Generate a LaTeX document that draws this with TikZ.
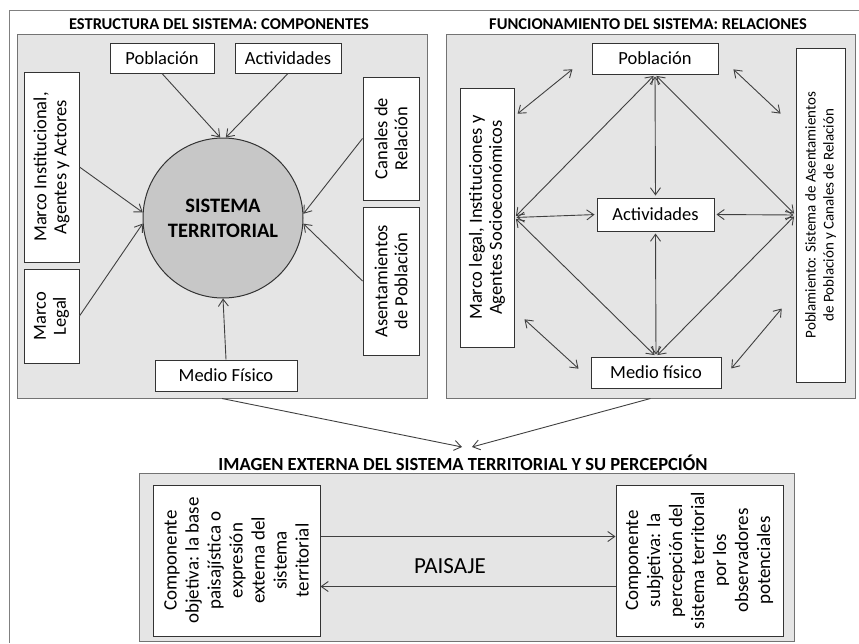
\documentclass[tikz,border=0pt]{standalone}
\usepackage{fontspec}
\setmainfont{Carlito}
\usetikzlibrary{arrows.meta}

\begin{document}
\begin{tikzpicture}[x=1pt,y=-1pt,
	panel/.style={draw=black!55, fill=black!10, line width=1pt},
	box/.style={draw=black!80, fill=white, line width=1pt, inner sep=0pt, align=center, font=\fontsize{18.5}{20}\selectfont},
	vbox/.style={box, rotate=90},
	head/.style={font=\fontsize{16.5}{18}\selectfont\bfseries},
	arr/.style={draw=black!75, line width=0.9pt, -{Straight Barb[length=7pt,width=10pt]}},
	dbl/.style={arr, {Straight Barb[length=7pt,width=10pt]}-{Straight Barb[length=7pt,width=10pt]}, shorten <=2pt, shorten >=2pt}]
	\useasboundingbox (0,0) rectangle (859,643);
	\draw[black!50, line width=0.8pt] (859,10) -- (9,10) -- (9,643);

	\node[head] (t1) at (219,24) {ESTRUCTURA DEL SISTEMA: COMPONENTES};
	\node[head] (t2) at (648,24) {FUNCIONAMIENTO DEL SISTEMA: RELACIONES};
	\node[panel, minimum width=410pt, minimum height=364pt] (comp) at (222,216) {};
	\node[panel, minimum width=409pt, minimum height=364pt] (rel) at (650.5,216) {};

	\node[box, minimum width=104pt, minimum height=30pt] (pob1) at (162,58) {Población};
	\node[box, minimum width=106pt, minimum height=30pt] (act1) at (288,58) {Actividades};
	\node[vbox, minimum width=190pt, minimum height=55pt] (inst) at (51.5,167) {Marco Institucional,\\Agentes y Actores};
	\node[vbox, minimum width=94pt, minimum height=55pt] (legal) at (51.5,316) {Marco\\Legal};
	\node[vbox, minimum width=123pt, minimum height=56pt] (can) at (391,138.5) {Canales de\\Relación};
	\node[vbox, minimum width=148pt, minimum height=56pt] (asent) at (391,281) {Asentamientos\\de Población};
	\node[box, minimum width=142pt, minimum height=31pt] (med1) at (226,375.5) {Medio Físico};
	\node[circle, draw=black!80, fill=black!22, line width=1pt, minimum size=160pt, align=center,
		font=\fontsize{20.5}{25}\selectfont\bfseries] (st) at (223,218) {SISTEMA\\TERRITORIAL};

	\draw[arr] (pob1.south) -- (st.92);
	\draw[arr] (act1.south) -- (st.88);
	\draw[arr] (inst.south) -- (st.176);
	\draw[arr] (legal.south) -- (st.184);
	\draw[arr] (can.north) -- (st.3);
	\draw[arr] (asent.north) -- (st.-4);
	\draw[arr] (med1.north) -- (st.south);

	\node[box, minimum width=126pt, minimum height=31pt] (pob2) at (655,58.5) {Población};
	\node[box, minimum width=117pt, minimum height=33pt] (act2) at (655.5,214.5) {Actividades};
	\node[vbox, minimum width=259pt, minimum height=54pt] (marco) at (487,217.5) {Marco legal, Instituciones y\\Agentes Socioeconómicos};
	\node[vbox, minimum width=334pt, minimum height=49pt, font=\fontsize{15}{18}\selectfont] (pobl) at (820.5,215)
		{Poblamiento: Sistema de Asentamientos\\de Población y Canales de Relación};
	\node[box, minimum width=130pt, minimum height=31pt] (med2) at (656,372.5) {Medio físico};

	\coordinate (a1) at (574,68);
	\coordinate (a2) at (516,115);
	\coordinate (b1) at (732,68);
	\coordinate (b2) at (782,115);
	\coordinate (c1) at (523,318);
	\coordinate (c2) at (580,370);
	\coordinate (d1) at (783,307);
	\coordinate (d2) at (730,370);

	\draw[dbl] (a1) -- (a2);
	\draw[dbl] (b1) -- (b2);
	\draw[dbl] (c1) -- (c2);
	\draw[dbl] (d1) -- (d2);
	\draw[dbl] (pob2.south) -- (act2.north);
	\draw[dbl] (pob2.south) -- (marco.south);
	\draw[dbl] (pob2.south) -- (pobl.north);
	\draw[dbl] (marco.south) -- (act2.west);
	\draw[dbl] (act2.east) -- (pobl.north);
	\draw[dbl] (marco.south) -- (med2.north);
	\draw[dbl] (pobl.north) -- (med2.north);
	\draw[dbl] (act2.south) -- (med2.north);

	\coordinate (i1) at (462,447);
	\coordinate (i2) at (472,447);
	\draw[arr] (comp.south) -- (i1);
	\draw[arr] (rel.south) -- (i2);

	\node[head, font=\fontsize{18.5}{20}\selectfont\bfseries] (img) at (463,463) {IMAGEN EXTERNA DEL SISTEMA TERRITORIAL Y SU PERCEPCIÓN};
	\node[panel, minimum width=655pt, minimum height=168pt] (ext) at (466.5,557) {};
	\node[vbox, minimum width=151pt, minimum height=167pt, font=\fontsize{19}{22}\selectfont] (obj) at (236.5,560.5)
		{Componente\\objetiva: la base\\paisajística o\\expresión\\externa del\\sistema\\territorial};
	\node[vbox, minimum width=151pt, minimum height=167pt, font=\fontsize{19}{22}\selectfont] (subj) at (699.5,560.5)
		{Componente\\subjetiva: la\\percepción del\\sistema territorial\\por los\\observadores\\potenciales};
	\node[font=\fontsize{23}{25}\selectfont] (pai) at (450,566) {PAISAJE};

	\coordinate (o1) at ([yshift=24pt]obj.south);
	\coordinate (o2) at ([yshift=-26pt]subj.north);
	\draw[arr] (o1) -- (o1 -| subj.north);
	\draw[arr] (o2) -- (o2 -| obj.south);
\end{tikzpicture}
\end{document}
